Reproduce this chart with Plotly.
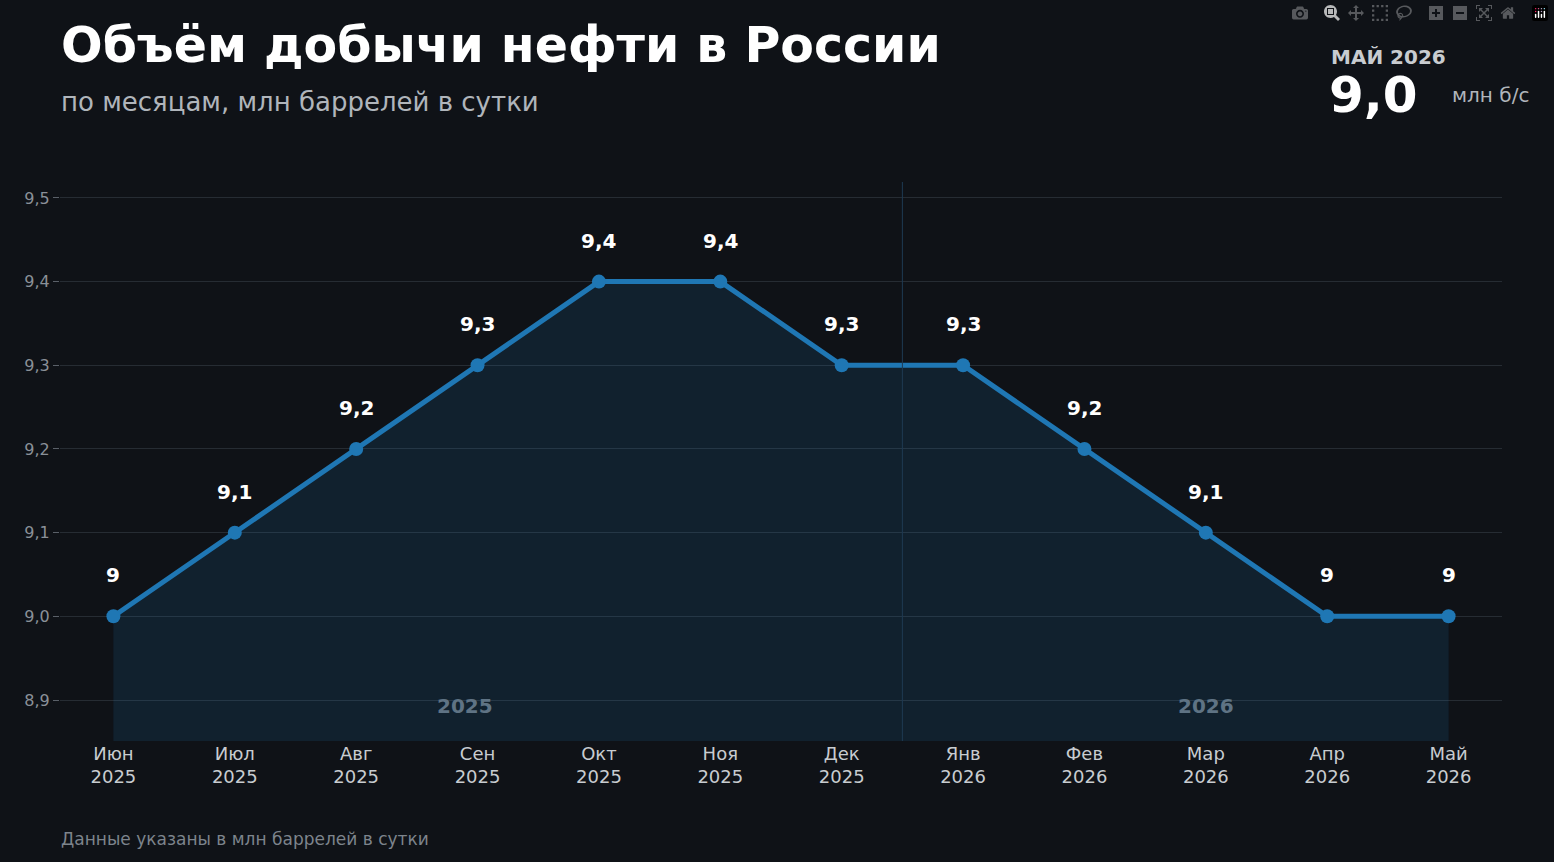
import plotly.graph_objects as go

months = ["Июн<br>2025","Июл<br>2025","Авг<br>2025","Сен<br>2025","Окт<br>2025","Ноя<br>2025",
          "Дек<br>2025","Янв<br>2026","Фев<br>2026","Мар<br>2026","Апр<br>2026","Май<br>2026"]
values = [9.0, 9.1, 9.2, 9.3, 9.4, 9.4, 9.3, 9.3, 9.2, 9.1, 9.0, 9.0]
labels = ["9","9,1","9,2","9,3","9,4","9,4","9,3","9,3","9,2","9,1","9","9"]
yticks = [8.9, 9.0, 9.1, 9.2, 9.3, 9.4, 9.5]
ytick_text = ["8,9","9,0","9,1","9,2","9,3","9,4","9,5"]

x = list(range(len(months)))
ymin, ymax = 8.851, 9.519
bg = "#0f1217"
blue = "#1f77b4"

fig = go.Figure()
fig.add_trace(go.Scatter(x=x, y=[ymin]*len(x), mode="lines", line=dict(width=0),
                         hoverinfo="skip", showlegend=False))
fig.add_trace(go.Scatter(x=x, y=values, mode="lines+markers", fill="tonexty",
                         fillcolor="rgba(31,119,180,0.15)",
                         line=dict(color=blue, width=5), marker=dict(size=14, color=blue),
                         showlegend=False))
for xi, v, t in zip(x, values, labels):
    fig.add_annotation(x=xi, y=v, text="<b>" + t + "</b>", showarrow=False, yshift=41,
                       font=dict(size=20, color="white", family="DejaVu Sans"))

fig.add_shape(type="line", x0=6.5, x1=6.5, y0=0, y1=1, yref="paper", xref="x",
              line=dict(color="#1e3a52", width=1))

fig.add_annotation(x=2.9, y=8.893, text="<b>2025</b>", showarrow=False,
                   font=dict(size=20, color="#5f7384", family="DejaVu Sans"))
fig.add_annotation(x=9, y=8.893, text="<b>2026</b>", showarrow=False,
                   font=dict(size=20, color="#5f7384", family="DejaVu Sans"))

H = 559
fig.add_annotation(xref="paper", yref="paper", x=-0.001, y=1.0 + 137/H, xanchor="left", yanchor="middle",
                   text="<b>Объём добычи нефти в России</b>", showarrow=False,
                   font=dict(size=49, color="white", family="DejaVu Sans"))
fig.add_annotation(xref="paper", yref="paper", x=-0.001, y=1.0 + 80/H, xanchor="left", yanchor="middle",
                   text="по месяцам, млн баррелей в сутки", showarrow=False,
                   font=dict(size=26, color="#b0b5bb", family="DejaVu Sans"))
fig.add_annotation(xref="paper", yref="paper", x=(1329-60)/1442, y=1.0 + 125/H, xanchor="left", yanchor="middle",
                   text="<b>МАЙ 2026</b>", showarrow=False,
                   font=dict(size=20, color="#c8ccd0", family="DejaVu Sans"))
fig.add_annotation(xref="paper", yref="paper", x=(1327-60)/1442, y=1.0 + 87/H, xanchor="left", yanchor="middle",
                   text="<b>9,0</b>", showarrow=False,
                   font=dict(size=50, color="white", family="DejaVu Sans"))
fig.add_annotation(xref="paper", yref="paper", x=(1450-60)/1442, y=1.0 + 87/H, xanchor="left", yanchor="middle",
                   text="млн б/с", showarrow=False,
                   font=dict(size=20, color="#b0b5bb", family="DejaVu Sans"))
fig.add_annotation(xref="paper", yref="paper", x=-0.001, y=-98/H, xanchor="left", yanchor="middle",
                   text="Данные указаны в млн баррелей в сутки", showarrow=False,
                   font=dict(size=17, color="#7d848c", family="DejaVu Sans"))

fig.update_layout(
    width=1554, height=862, paper_bgcolor=bg, plot_bgcolor=bg,
    margin=dict(l=60, r=52, t=182, b=121),
    font=dict(family="DejaVu Sans", color="#b0b5bb"),
    separators=", ",
)
fig.update_xaxes(range=[-0.44, 11.44], tickvals=x, ticktext=months, showgrid=False,
                 zeroline=False, tickfont=dict(size=18, color="#c8ccd0"), showline=False)
fig.update_yaxes(range=[ymin, ymax], tickvals=yticks, ticktext=ytick_text, gridcolor="#262c33",
                 zeroline=False, ticks="outside", ticklen=6, tickcolor="#5a6068",
                 tickfont=dict(size=16, color="#8a9098"))

fig.write_html("out.html")
with open("out.html", encoding="utf-8") as f:
    html = f.read()
html = html.replace("<head>", "<head><style>html,body{margin:0;padding:0;background:#0f1217;overflow:hidden}</style>", 1)
with open("out.html", "w", encoding="utf-8") as f:
    f.write(html)
